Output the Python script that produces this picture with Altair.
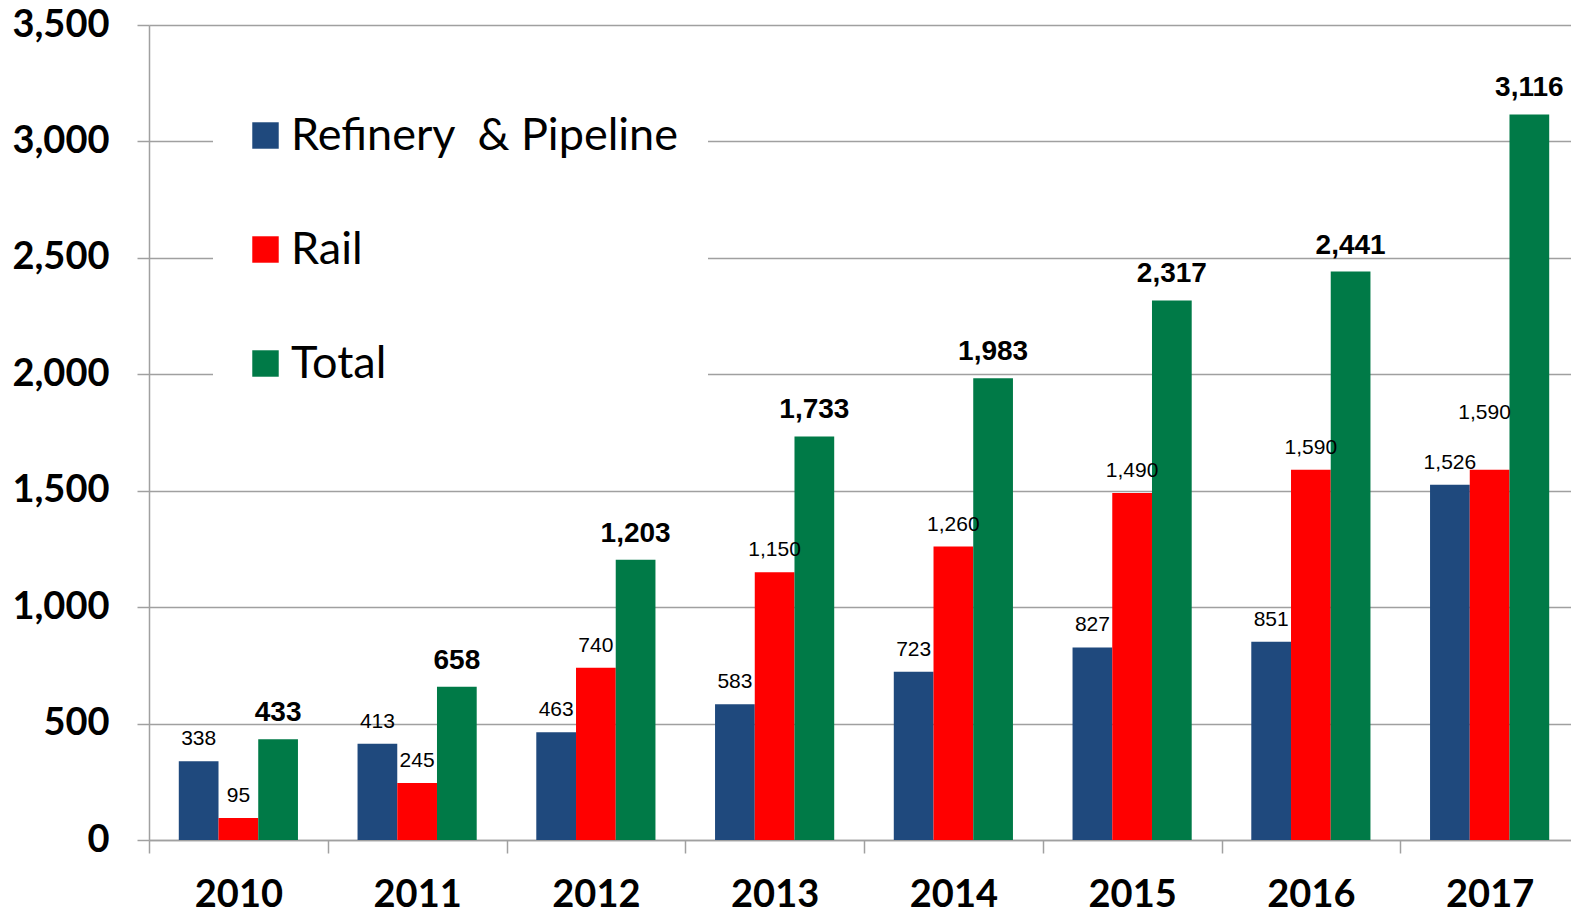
import altair as alt
import pandas as pd

years = ["2010", "2011", "2012", "2013", "2014", "2015", "2016", "2017"]
series_names = ["Refinery\u00a0 & Pipeline", "Rail", "Total"]
refinery_pipeline = [338, 413, 463, 583, 723, 827, 851, 1526]
rail = [95, 245, 740, 1150, 1260, 1490, 1590, 1590]
total = [433, 658, 1203, 1733, 1983, 2317, 2441, 3116]
colors = ["#1F497D", "#FF0000", "#007A47"]
y_ticks = [0, 500, 1000, 1500, 2000, 2500, 3000, 3500]

rows = []
for name, vals in zip(series_names, [refinery_pipeline, rail, total]):
    for yr, v in zip(years, vals):
        rows.append({"year": yr, "series": name, "value": v})
df = pd.DataFrame(rows)

GRID = "#A0A0A0"
AXFONT = "Lato"

x_enc = alt.X("year:N", sort=years, title=None,
              scale=alt.Scale(paddingInner=0, paddingOuter=0),
              axis=alt.Axis(labelFont=AXFONT, labelFontWeight="bold", labelFontSize=38,
                            labelColor="black", labelAngle=0, labelPadding=23,
                            tickBand="extent", tickSize=13, tickColor=GRID, tickWidth=1.5,
                            domainColor=GRID, domainWidth=1.5, grid=False))
xo_enc = alt.XOffset("series:N", sort=series_names,
                     scale=alt.Scale(domain=series_names, paddingInner=0, paddingOuter=0.75))
y_enc = alt.Y("value:Q", title=None,
              scale=alt.Scale(domain=[0, 3500], nice=False),
              axis=alt.Axis(values=y_ticks, format=",.0f", labelFont=AXFONT, labelFontWeight="bold",
                            labelFontSize=38, labelColor="black", labelPadding=28,
                            tickSize=12, tickColor=GRID, tickWidth=1.5,
                            domainColor=GRID, domainWidth=1.5,
                            grid=True, gridColor=GRID, gridWidth=1.5))

base = alt.Chart(df)

bars = base.mark_bar(stroke=None).encode(
    x=x_enc, xOffset=xo_enc, y=y_enc,
    color=alt.Color("series:N", sort=series_names,
                    scale=alt.Scale(domain=series_names, range=colors),
                    legend=alt.Legend(orient="none", legendX=64, legendY=58, title=None,
                                      fillColor="white", padding=30, symbolType="square",
                                      symbolSize=700, symbolStrokeWidth=0, symbolOpacity=1,
                                      labelFont="Lato", labelFontSize=45, labelColor="black",
                                      labelLimit=1000, rowPadding=68, labelOffset=3)),
)

small = base.transform_filter(
    "datum.series != 'Total' && !(datum.series == 'Rail' && datum.year == '2017')"
).mark_text(font="Liberation Sans", fontSize=21, color="black", baseline="alphabetic", dy=-16).encode(
    x=alt.X("year:N", sort=years), xOffset=alt.XOffset("series:N", sort=series_names),
    y="value:Q", text=alt.Text("value:Q", format=","))

special = base.transform_filter(
    "datum.series == 'Rail' && datum.year == '2017'"
).mark_text(font="Liberation Sans", fontSize=21, color="black", baseline="alphabetic", dy=-51, dx=-5).encode(
    x=alt.X("year:N", sort=years), xOffset=alt.XOffset("series:N", sort=series_names),
    y="value:Q", text=alt.Text("value:Q", format=","))

totals = base.transform_filter("datum.series == 'Total'").mark_text(
    font="Liberation Sans", fontSize=28, fontWeight="bold", color="black",
    baseline="alphabetic", dy=-18).encode(
    x=alt.X("year:N", sort=years), xOffset=alt.XOffset("series:N", sort=series_names),
    y="value:Q", text=alt.Text("value:Q", format=","))

chart = alt.layer(bars, small, special, totals).properties(
    width=1430, height=815,
    autosize=alt.AutoSizeParams(type="none"),
    padding={"left": 141, "top": 17, "right": -8, "bottom": 70},
    background="white",
).configure_view(stroke=None)

chart.save("out.html", embed_options={"renderer": "svg", "actions": False})
